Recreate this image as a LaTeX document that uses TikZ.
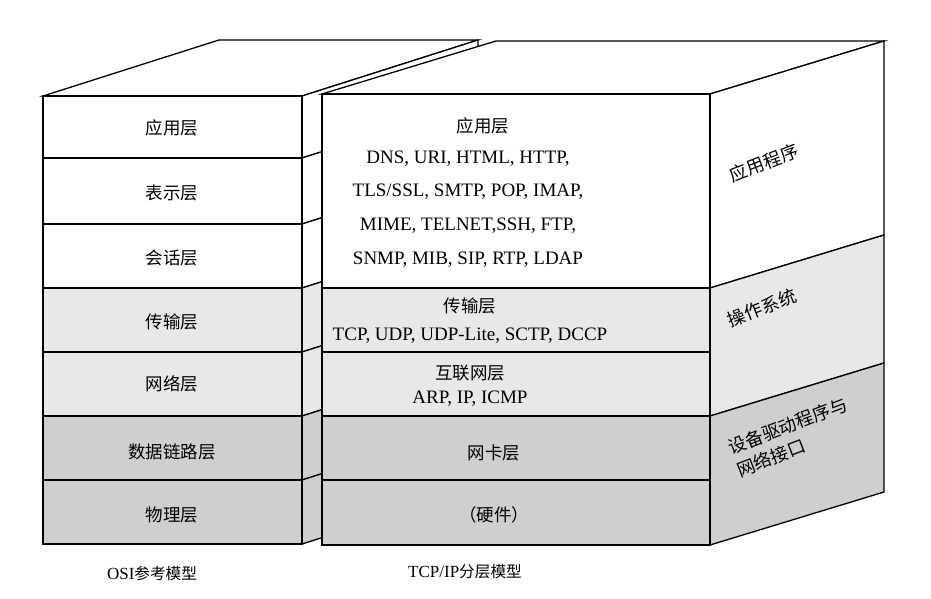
\documentclass[tikz,border=0pt]{standalone}
\usepackage{fontspec}
\setmainfont{Liberation Serif}
\newfontfamily\cjk{Noto Sans CJK SC}[Scale=0.92]
\begin{document}
\begin{tikzpicture}[x=1pt,y=-1pt,line width=1.3pt,
  lw/.style={fill=white},
  lg/.style={fill=black!9},
  dg/.style={fill=black!19},
  lbl/.style={font=\fontsize{19}{23}\selectfont,align=center,inner sep=0pt},
  side/.style={font=\cjk\fontsize{19.5}{24}\selectfont,align=left,rotate=21,inner sep=0pt}]
\useasboundingbox (0,0) rectangle (931,599);
% OSI box
\def\dx{176}\def\dy{-56}
\draw[lw] (43,96) -- ++(\dx,\dy) -- (478,40) -- (302,96) -- cycle;
\foreach \a/\b/\s in {96/158/lw,158/224/lw,224/288/lw,288/352/lg,352/416/lg,416/480/dg,480/544/dg}{
  \draw[\s] (302,\a) -- ++(\dx,\dy) -- (478,\b-56) -- (302,\b) -- cycle;
  \draw[\s] (43,\a) rectangle (302,\b);
}
% TCP box
\draw[lw] (322,94) -- (496,41) -- (884,41) -- (710,94) -- cycle;
\draw[lw] (710,94) -- (884,41) -- (884,235) -- (710,288) -- cycle;
\draw[lg] (710,288) -- (884,235) -- (884,363) -- (710,416) -- cycle;
\draw[dg] (710,416) -- (884,363) -- (884,492) -- (710,545) -- cycle;
\draw[lw] (322,94) rectangle (710,288);
\draw[lg] (322,288) rectangle (710,352);
\draw[lg] (322,352) rectangle (710,416);
\draw[dg] (322,416) rectangle (710,480);
\draw[dg] (322,480) rectangle (710,545);
% OSI labels
\node[lbl] (o1) at (172,128) {\cjk 应用层};
\node[lbl] (o2) at (172,193) {\cjk 表示层};
\node[lbl] (o3) at (172,258) {\cjk 会话层};
\node[lbl] (o4) at (172,322) {\cjk 传输层};
\node[lbl] (o5) at (172,384) {\cjk 网络层};
\node[lbl] (o6) at (172,452) {\cjk 数据链路层};
\node[lbl] (o7) at (172,515) {\cjk 物理层};
% TCP labels
\node[lbl] (t0) at (483,126) {\cjk 应用层};
\node[lbl] (t1) at (468,159) {DNS, URI, HTML, HTTP,};
\node[lbl] (t2) at (468,192) {TLS/SSL, SMTP, POP, IMAP,};
\node[lbl] (t3) at (468,226) {MIME, TELNET,SSH, FTP,};
\node[lbl] (t4) at (468,260) {SNMP, MIB, SIP, RTP, LDAP};
\node[lbl] (t5) at (470,306) {\cjk 传输层};
\node[lbl] (t6) at (470,336) {TCP, UDP, UDP-Lite, SCTP, DCCP};
\node[lbl] (t7) at (470,373) {\cjk 互联网层};
\node[lbl] (t8) at (470,399) {ARP, IP, ICMP};
\node[lbl] (t9) at (494,453) {\cjk 网卡层};
\node[lbl] (t10) at (494,515) {\cjk （硬件）};
% side labels
\node[side] (s1) at (764,163) {应用程序};
\node[side] (s2) at (762,308) {操作系统};
\node[side] (s3) at (792,437) {设备驱动程序与\\网络接口};
% captions
\node[lbl,font=\fontsize{17}{21}\selectfont] (c1) at (152,574) {OSI\cjk 参考模型};
\node[lbl,font=\fontsize{17}{21}\selectfont] (c2) at (465,572) {TCP/IP\cjk 分层模型};
\end{tikzpicture}
\end{document}
